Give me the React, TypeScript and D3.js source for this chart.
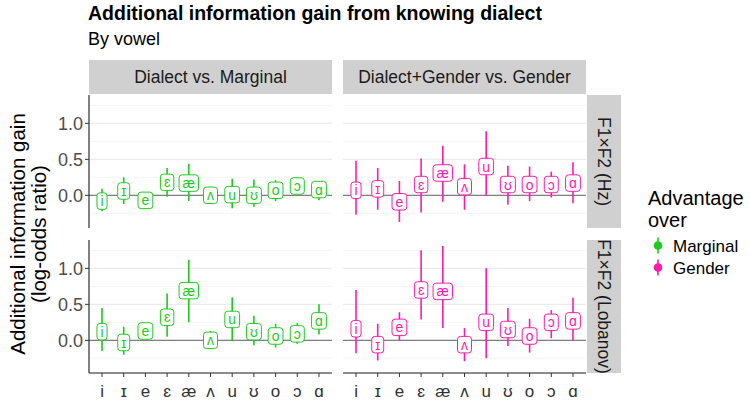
import React from "react";
import * as d3 from "d3";

// ---------- data ----------
const vowels = ["i", "ɪ", "e", "ɛ", "æ", "ʌ", "u", "ʊ", "o", "ɔ", "ɑ"];
const comparisons = ["Dialect vs. Marginal", "Dialect+Gender vs. Gender"];
const normalizations = ["F1×F2 (Hz)", "F1×F2 (Lobanov)"];
const advantageOver = ["Marginal", "Gender"];
const yTicks = [0, 0.5, 1.0];
const yMinorTicks = [-0.25, 0.25, 0.75, 1.25];

// Hz, advantage over Marginal
const hzMarginalEst = [-0.08, 0.06, -0.07, 0.18, 0.17, 0.0, 0.01, 0.0, 0.07, 0.13, 0.08];
const hzMarginalLo = [-0.22, -0.12, -0.14, -0.02, -0.08, -0.06, -0.18, -0.16, -0.08, 0.05, -0.07];
const hzMarginalHi = [0.09, 0.25, 0.01, 0.38, 0.44, 0.06, 0.23, 0.22, 0.21, 0.2, 0.2];
// Hz, advantage over Gender
const hzGenderEst = [0.07, 0.09, -0.09, 0.15, 0.31, 0.12, 0.4, 0.15, 0.15, 0.15, 0.17];
const hzGenderLo = [-0.27, -0.2, -0.37, -0.24, -0.09, -0.2, 0.0, -0.13, -0.08, -0.03, -0.11];
const hzGenderHi = [0.48, 0.38, 0.2, 0.51, 0.69, 0.43, 0.89, 0.41, 0.4, 0.33, 0.46];
// Lobanov, advantage over Marginal
const lobMarginalEst = [0.12, -0.03, 0.13, 0.32, 0.69, 0.0, 0.29, 0.12, 0.06, 0.09, 0.27];
const lobMarginalLo = [-0.15, -0.2, 0.06, 0.05, 0.25, -0.12, -0.01, -0.07, -0.1, -0.05, 0.08];
const lobMarginalHi = [0.45, 0.19, 0.2, 0.65, 1.12, 0.13, 0.6, 0.34, 0.23, 0.24, 0.5];
// Lobanov, advantage over Gender
const lobGenderEst = [0.16, -0.06, 0.18, 0.7, 0.68, -0.06, 0.25, 0.15, 0.06, 0.25, 0.27];
const lobGenderLo = [-0.18, -0.28, 0.0, 0.29, 0.17, -0.29, -0.25, -0.08, -0.17, 0.03, 0.0];
const lobGenderHi = [0.7, 0.23, 0.39, 1.25, 1.31, 0.17, 1.0, 0.45, 0.3, 0.42, 0.59];

// ---------- styling / layout ----------
const FONT = "'Liberation Sans', Arial, Helvetica, sans-serif";
const COLORS = ["#1DCB1D", "#FF1AAE"];
const W = 750;
const H = 400;
const panelX = [[89, 332], [343, 586]];
const panelY = [[95, 228], [240, 373]];
const stripTop = 60;
const stripRightX = [587, 621];

let _ctx: CanvasRenderingContext2D | null = null;
function textWidth(t: string, size: number) {
  if (!_ctx) {
    const c = document.createElement("canvas");
    _ctx = c.getContext("2d");
  }
  if (!_ctx) return t.length * size * 0.55;
  _ctx.font = `${size}px ${FONT}`;
  return _ctx.measureText(t).width;
}

type Row = { v: string; est: number; lo: number; hi: number };
function rows(est: number[], lo: number[], hi: number[]): Row[] {
  return vowels.map((v, i) => ({ v, est: est[i], lo: lo[i], hi: hi[i] }));
}

const panelData: Row[][][] = [
  // [normalization][comparison]
  [rows(hzMarginalEst, hzMarginalLo, hzMarginalHi), rows(hzGenderEst, hzGenderLo, hzGenderHi)],
  [rows(lobMarginalEst, lobMarginalLo, lobMarginalHi), rows(lobGenderEst, lobGenderLo, lobGenderHi)],
];

const allVals = panelData.flat(2).flatMap((d) => [d.lo, d.hi]);
const vMin = d3.min(allVals) as number;
const vMax = d3.max(allVals) as number;
const expand = (vMax - vMin) * 0.05;
const yDomain = [vMin - expand, vMax + expand];

function Panel({ r, c }: { r: number; c: number }) {
  const [x0, x1] = panelX[c];
  const [y0, y1] = panelY[r];
  const x = d3.scalePoint<string>().domain(vowels).range([x0, x1]).padding(0.6);
  const y = d3.scaleLinear().domain(yDomain).range([y1, y0]);
  const data = panelData[r][c];
  const col = COLORS[c];
  const labelSize = 14;
  const boxH = 16.5;
  return (
    <g>
      <rect x={x0} y={y0} width={x1 - x0} height={y1 - y0} fill="#FFFFFF" />
      {yMinorTicks.map((t) => (
        <line key={"mn" + t} x1={x0} x2={x1} y1={y(t)} y2={y(t)} stroke="#F2F2F2" strokeWidth={0.8} />
      ))}
      {yTicks.map((t) => (
        <line key={"mj" + t} x1={x0} x2={x1} y1={y(t)} y2={y(t)} stroke="#EBEBEB" strokeWidth={1.1} />
      ))}
      <line x1={x0} x2={x1} y1={y(0)} y2={y(0)} stroke="#808080" strokeWidth={1.4} />
      {data.map((d) => (
        <line
          key={"lr" + d.v}
          x1={x(d.v)}
          x2={x(d.v)}
          y1={y(d.lo)}
          y2={y(d.hi)}
          stroke={col}
          strokeWidth={1.6}
        />
      ))}
      {data.map((d) => {
        const w = textWidth(d.v, labelSize) + 7;
        const cx = x(d.v) as number;
        const cy = y(d.est);
        return (
          <g key={"lb" + d.v}>
            <rect
              x={cx - w / 2}
              y={cy - boxH / 2}
              width={w}
              height={boxH}
              rx={3}
              ry={3}
              fill="#FFFFFF"
              stroke={col}
              strokeWidth={1}
            />
            <text
              x={cx}
              y={cy + labelSize * 0.36}
              textAnchor="middle"
              fontSize={labelSize}
              fill={col}
              fontFamily={FONT}
            >
              {d.v}
            </text>
          </g>
        );
      })}
      {c === 0 && (
        <g>
          <line x1={x0} x2={x0} y1={y0} y2={y1} stroke="#1A1A1A" strokeWidth={1.1} />
          {yTicks.map((t) => (
            <g key={"yt" + t}>
              <line x1={x0 - 4} x2={x0} y1={y(t)} y2={y(t)} stroke="#333333" strokeWidth={1} />
              <text
                x={x0 - 6}
                y={y(t) + 6.2}
                textAnchor="end"
                fontSize={18}
                fill="#4D4D4D"
                fontFamily={FONT}
              >
                {d3.format(".1f")(t)}
              </text>
            </g>
          ))}
        </g>
      )}
      {r === 1 && (
        <g>
          <line x1={x0} x2={x1} y1={y1} y2={y1} stroke="#1A1A1A" strokeWidth={1.1} />
          {vowels.map((v) => (
            <g key={"xt" + v}>
              <line x1={x(v)} x2={x(v)} y1={y1} y2={y1 + 4} stroke="#333333" strokeWidth={1} />
              <text
                x={x(v)}
                y={y1 + 24}
                textAnchor="middle"
                fontSize={17}
                fill="#333333"
                fontFamily={FONT}
              >
                {v}
              </text>
            </g>
          ))}
        </g>
      )}
    </g>
  );
}

export default function App() {
  React.useEffect(() => {
    document.body.style.margin = "0";
  }, []);
  const midY = (panelY[0][0] + panelY[1][1]) / 2;
  return (
    <svg
      width={W}
      height={H}
      viewBox={`0 0 ${W} ${H}`}
      style={{ position: "fixed", left: 0, top: 0, background: "#FFFFFF" }}
      fontFamily={FONT}
    >
      <defs>
        {normalizations.map((n, r) => (
          <clipPath id={"stripclip" + r} key={n}>
            <rect
              x={stripRightX[0]}
              y={panelY[r][0]}
              width={stripRightX[1] - stripRightX[0]}
              height={panelY[r][1] - panelY[r][0]}
            />
          </clipPath>
        ))}
      </defs>
      <rect x={0} y={0} width={W} height={H} fill="#FFFFFF" />
      <text x={88} y={20} fontSize={19.5} fontWeight="bold" fill="#000000">
        Additional information gain from knowing dialect
      </text>
      <text x={88} y={45} fontSize={18} fill="#000000">
        By vowel
      </text>

      {comparisons.map((cmp, c) => (
        <g key={cmp}>
          <rect
            x={panelX[c][0]}
            y={stripTop}
            width={panelX[c][1] - panelX[c][0]}
            height={panelY[0][0] - stripTop - 1}
            fill="#D0D0D0"
          />
          <text
            x={(panelX[c][0] + panelX[c][1]) / 2}
            y={stripTop + 23}
            textAnchor="middle"
            fontSize={17.5}
            fill="#1A1A1A"
          >
            {cmp}
          </text>
        </g>
      ))}

      {normalizations.map((n, r) => (
        <g key={n}>
          <rect
            x={stripRightX[0]}
            y={panelY[r][0]}
            width={stripRightX[1] - stripRightX[0]}
            height={panelY[r][1] - panelY[r][0]}
            fill="#D0D0D0"
          />
          <g clipPath={`url(#stripclip${r})`}>
            <text
              transform={`translate(${stripRightX[0] + 11},${(panelY[r][0] + panelY[r][1]) / 2}) rotate(90)`}
              textAnchor="middle"
              fontSize={17.5}
              fill="#1A1A1A"
            >
              {n}
            </text>
          </g>
        </g>
      ))}

      {[0, 1].map((r) => [0, 1].map((c) => <Panel key={`${r}-${c}`} r={r} c={c} />))}

      <text
        transform={`translate(25,${midY}) rotate(-90)`}
        textAnchor="middle"
        fontSize={20.5}
        fill="#000000"
      >
        Additional information gain
      </text>
      <text
        transform={`translate(46,${midY}) rotate(-90)`}
        textAnchor="middle"
        fontSize={20.5}
        fill="#000000"
      >
        (log-odds ratio)
      </text>

      <g>
        <text x={648} y={205} fontSize={20} fill="#000000">
          Advantage
        </text>
        <text x={648} y={227} fontSize={20} fill="#000000">
          over
        </text>
        {advantageOver.map((a, i) => {
          const cy = 245.5 + i * 22;
          return (
            <g key={a}>
              <line x1={658} x2={658} y1={cy - 8} y2={cy + 8} stroke={COLORS[i]} strokeWidth={1.6} />
              <circle cx={658} cy={cy} r={4.3} fill={COLORS[i]} />
              <text x={673} y={cy + 6} fontSize={17} fill="#000000">
                {a}
              </text>
            </g>
          );
        })}
      </g>
    </svg>
  );
}
